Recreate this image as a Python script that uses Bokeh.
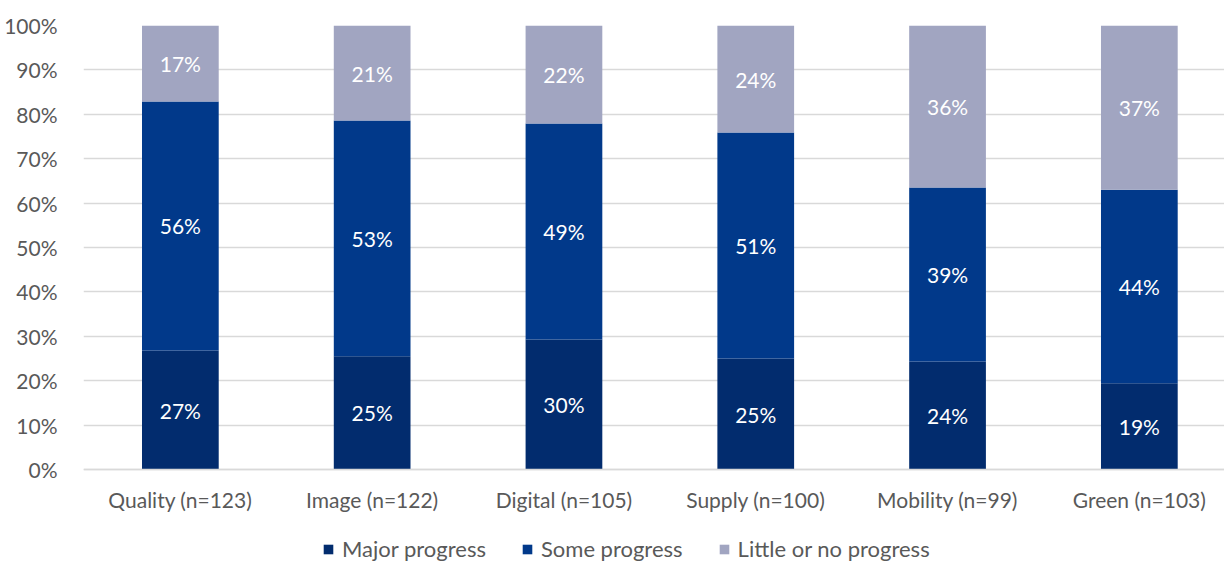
from bokeh.plotting import figure
from bokeh.models import ColumnDataSource, FixedTicker, Legend, LegendItem
from bokeh.core.properties import value
from bokeh.embed import file_html
from bokeh.resources import INLINE

categories = ["Quality (n=123)", "Image (n=122)", "Digital (n=105)", "Supply (n=100)", "Mobility (n=99)", "Green (n=103)"]
series = ["Major progress", "Some progress", "Little or no progress"]
major = [26.8, 25.5, 29.3, 25.0, 24.3, 19.4]
some = [56.1, 53.1, 48.6, 50.9, 39.2, 43.6]
little = [17.1, 21.4, 22.1, 24.1, 36.5, 37.0]
major_lbl = ["27%", "25%", "30%", "25%", "24%", "19%"]
some_lbl = ["56%", "53%", "49%", "51%", "39%", "44%"]
little_lbl = ["17%", "21%", "22%", "24%", "36%", "37%"]
yticks = [0, 10, 20, 30, 40, 50, 60, 70, 80, 90, 100]

colors = ["#022C6E", "#01398A", "#A1A5C1"]
FONT = "Lato"
GRAY = "#595959"
FS = "21px"

xs = list(range(len(categories)))
src = ColumnDataSource(dict(x=xs, major=major, some=some, little=little))

p = figure(width=1224, height=563, output_backend="svg", toolbar_location=None,
           x_range=(-0.505, 5.444), y_range=(-21.17, 100),
           min_border_left=83, min_border_right=0, min_border_top=25, min_border_bottom=0)
p.outline_line_color = None
p.background_fill_color = "white"
p.border_fill_color = "white"

rs = p.vbar_stack(["major", "some", "little"], x="x", width=0.4, source=src,
                  color=colors, line_color=None)

cum0 = [0] * len(xs)
for vals, lbls in [(major, major_lbl), (some, some_lbl), (little, little_lbl)]:
    ys = [c + v / 2 for c, v in zip(cum0, vals)]
    p.text(x=xs, y=ys, text=lbls, text_align="center", text_baseline="middle",
           text_color="white", text_font=value(FONT), text_font_size=FS)
    cum0 = [c + v for c, v in zip(cum0, vals)]

p.xaxis.fixed_location = 0
p.xaxis.ticker = FixedTicker(ticks=xs)
p.xaxis.major_label_overrides = {i: c for i, c in enumerate(categories)}
p.xaxis.axis_line_color = "#D9D9D9"
p.xaxis.axis_line_width = 1.5
p.xaxis.major_tick_line_color = None
p.xaxis.minor_tick_line_color = None
p.xaxis.major_label_standoff = 11
p.xaxis.major_label_text_font = FONT
p.xaxis.major_label_text_font_size = FS
p.xaxis.major_label_text_color = GRAY
p.xgrid.grid_line_color = None

p.yaxis.ticker = FixedTicker(ticks=yticks)
p.yaxis.major_label_overrides = {t: f"{t}%" for t in yticks}
p.yaxis.axis_line_color = None
p.yaxis.major_tick_line_color = None
p.yaxis.minor_tick_line_color = None
p.yaxis.major_label_standoff = 20
p.yaxis.major_label_text_font = FONT
p.yaxis.major_label_text_font_size = FS
p.yaxis.major_label_text_color = GRAY
p.ygrid.grid_line_color = "#D9D9D9"
p.ygrid.grid_line_width = 1.5

legend = Legend(items=[LegendItem(label=s, renderers=[r]) for s, r in zip(series, rs)],
                orientation="horizontal", location=(239, 1),
                label_text_font=FONT, label_text_font_size="22px", label_text_color=GRAY,
                glyph_width=12, glyph_height=12, spacing=35, label_standoff=8,
                border_line_color=None, background_fill_alpha=0, padding=0, margin=0)
p.add_layout(legend, "center")

open("out.html", "w").write(file_html(p, INLINE))
